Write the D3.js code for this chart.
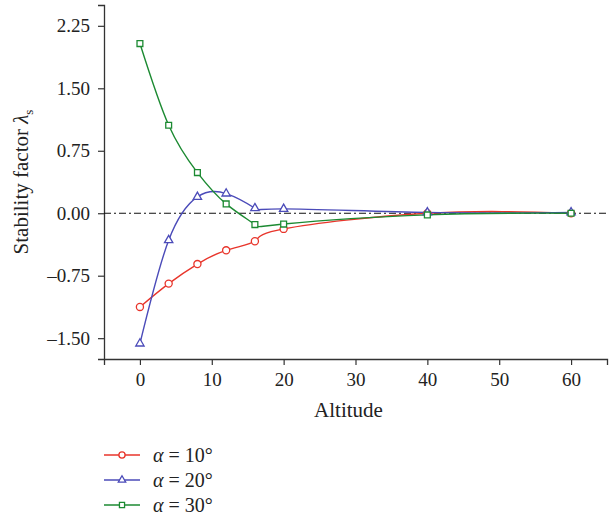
<!DOCTYPE html>
<html lang="en">
<head>
<meta charset="UTF-8">
<title>Stability factor</title>
<script src="https://cdn.jsdelivr.net/npm/d3@7"></script>
<style>
  body { margin: 0; background: #fff; }
  text { font-family: "Liberation Serif", "DejaVu Serif", serif; fill: #222; }
</style>
</head>
<body>
<div id="container"></div>
<script>
// data
const altitude = [0, 4, 8, 12, 16, 20, 40, 60];
const alpha10 = [-1.125, -0.845, -0.61, -0.445, -0.336, -0.188, 0.0, 0.0];
const alpha20 = [-1.565, -0.324, 0.196, 0.236, 0.06, 0.052, 0.01, 0.01];
const alpha30 = [2.037, 1.056, 0.488, 0.112, -0.136, -0.13, -0.02, 0.0];
const seriesNames = ["10°", "20°", "30°"];
const yTicks = [-1.5, -0.75, 0, 0.75, 1.5, 2.25];
const xTicks = [0, 10, 20, 30, 40, 50, 60];

const colors = ["#e8352b", "#4b4bb9", "#1c8a32"];
const shapes = [d3.symbolCircle, d3.symbolTriangle, d3.symbolSquare];
const symSizes = [40, 30, 34];
const legSizes = [30, 24, 26];

const W = 610, H = 517;
const mLeft = 104, mRight = 607, mTop = 5, mBottom = 359;

let svg = d3.select('#container').append('svg')
    .attr('width', W).attr('height', H);

let x = d3.scaleLinear().domain([-5, 65]).range([mLeft, mRight]);
let y = d3.scaleLinear().domain([-1.75, 2.5]).range([mBottom, mTop]);

// axes
let xAxis = svg.append('g')
    .attr('transform', 'translate(0,' + mBottom + ')')
    .call(d3.axisBottom(x).tickValues(xTicks).tickSizeOuter(0).tickSize(6).tickPadding(8));
let yAxis = svg.append('g')
    .attr('transform', 'translate(' + mLeft + ',0)')
    .call(d3.axisLeft(y).tickValues(yTicks).tickSizeOuter(0).tickSize(6).tickPadding(8)
        .tickFormat(d => (d < 0 ? '\u2013' : '') + Math.abs(d).toFixed(2)));

[xAxis, yAxis].forEach(a => {
    a.select('.domain').attr('stroke', '#333').attr('stroke-width', 1.3);
    a.selectAll('.tick line').attr('stroke', '#333').attr('stroke-width', 1.2);
    a.selectAll('.tick text').style('font-size', '19px').attr('fill', '#222');
});

// zero reference line
svg.append('line')
    .attr('x1', mLeft).attr('x2', mRight)
    .attr('y1', y(0)).attr('y2', y(0))
    .attr('stroke', '#111').attr('stroke-width', 1.1)
    .attr('stroke-dasharray', '7,3,2,3');

// series
let allSeries = [alpha10, alpha20, alpha30];
let line = d3.line()
    .x((d, i) => x(altitude[i]))
    .y(d => y(d))
    .curve(d3.curveNatural);

allSeries.forEach((vals, s) => {
    svg.append('path')
        .datum(vals)
        .attr('d', line)
        .attr('fill', 'none')
        .attr('stroke', colors[s])
        .attr('stroke-width', 1.4);
});

allSeries.forEach((vals, s) => {
    svg.append('g').selectAll('path')
        .data(vals)
        .join('path')
        .attr('transform', (d, i) => 'translate(' + x(altitude[i]) + ',' + y(d) + ')')
        .attr('d', d3.symbol().type(shapes[s]).size(symSizes[s]))
        .attr('fill', '#fff')
        .attr('stroke', colors[s])
        .attr('stroke-width', 1.3);
});

// axis titles
svg.append('text')
    .attr('x', (mLeft + mRight) / 2 - 7).attr('y', 417)
    .attr('text-anchor', 'middle')
    .style('font-size', '21px')
    .text('Altitude');

let yl = svg.append('text')
    .attr('transform', 'translate(28,' + ((mTop + mBottom) / 2) + ') rotate(-90)')
    .attr('text-anchor', 'middle')
    .style('font-size', '21px');
yl.append('tspan').text('Stability factor ');
yl.append('tspan').style('font-style', 'italic').text('λ');
yl.append('tspan').attr('dy', 5).style('font-size', '13px').text('s');

// legend
let legend = svg.append('g');
seriesNames.forEach((name, s) => {
    let ly = 455 + s * 25;
    legend.append('line')
        .attr('x1', 104).attr('x2', 140).attr('y1', ly).attr('y2', ly)
        .attr('stroke', colors[s]).attr('stroke-width', 1.4);
    legend.append('path')
        .attr('transform', 'translate(122,' + ly + ')')
        .attr('d', d3.symbol().type(shapes[s]).size(legSizes[s]))
        .attr('fill', '#fff').attr('stroke', colors[s]).attr('stroke-width', 1.3);
    let t = legend.append('text')
        .attr('x', 153).attr('y', ly + 7)
        .style('font-size', '20px');
    t.append('tspan').style('font-style', 'italic').text('α');
    t.append('tspan').text(' = ' + name);
});
</script>
</body>
</html>
